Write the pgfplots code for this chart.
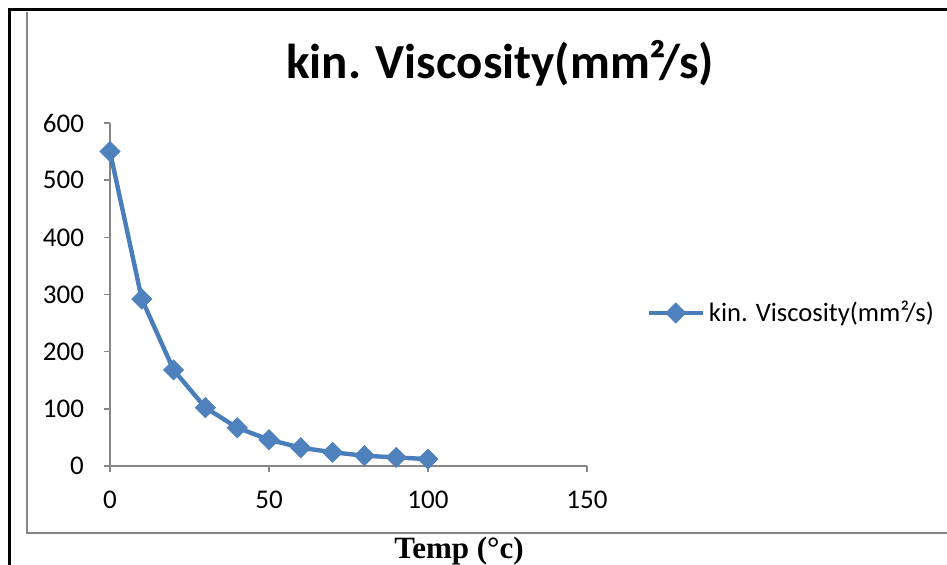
\documentclass[border=0pt]{standalone}
\usepackage{fontspec}
\setmainfont{Carlito}
\newfontfamily\timesfont{Liberation Serif}
\usepackage{pgfplots}
\pgfplotsset{compat=1.18}
\definecolor{ser}{HTML}{4A7EBB}
\definecolor{serfill}{HTML}{4F81BD}
\definecolor{axgray}{HTML}{868686}
\begin{document}
\begin{tikzpicture}[x=0.5pt,y=-0.5pt]
% outer borders
\draw[black, line width=1.5pt] (9,565) -- (9,10) -- (947,10);
\draw[axgray, line width=1pt] (27,12) -- (27,533) -- (947,533);
\begin{axis}[
  at={(55pt,-233pt)}, anchor=south west,
  scale only axis, width=238.5pt, height=171.5pt,
  xmin=0, xmax=150, ymin=0, ymax=600,
  xtick={0,50,100,150}, ytick={0,100,200,300,400,500,600},
  axis x line*=bottom, axis y line*=left,
  axis line style={-, axgray, line width=0.75pt},
  tick style={axgray, line width=0.75pt},
  tick align=outside, major tick length=3pt,
  ticklabel style={font=\fontsize{13.5}{15}\selectfont, text=black},
  xticklabel style={yshift=-6pt},
  yticklabel style={xshift=-6.5pt},
  /pgf/number format/assume math mode=true,
  clip=false,
  legend style={at={(1.124,0.446)}, anchor=west, draw=none, fill=none,
    font=\fontsize{13.3}{15}\selectfont, inner sep=0pt},
  legend cell align=left,
  legend image code/.code={\draw[mark repeat=2,mark phase=2,#1] plot coordinates {(0pt,0pt) (13.5pt,0pt) (27pt,0pt)};},
]
\addplot[ser, line width=2.2pt, mark=square*, mark size=3.5pt,
  mark options={rotate=45, fill=serfill, draw=serfill, line width=0.5pt}]
  coordinates {(0,550) (10,292) (20,168) (30,102) (40,67) (50,46) (60,32) (70,24) (80,18) (90,15) (100,12)};
\addlegendentry{kin. Viscosity(mm²/s)}
\end{axis}
\node[font=\fontsize{24.5}{28}\selectfont\bfseries] at (500,63) {kin. Viscosity(mm²/s)};
\node[font=\timesfont\fontsize{15.5}{18}\selectfont\bfseries] at (459,551) {Temp (°c)};
\pgfresetboundingbox
\path[use as bounding box] (0,0) rectangle (947,565);
\end{tikzpicture}
\end{document}
